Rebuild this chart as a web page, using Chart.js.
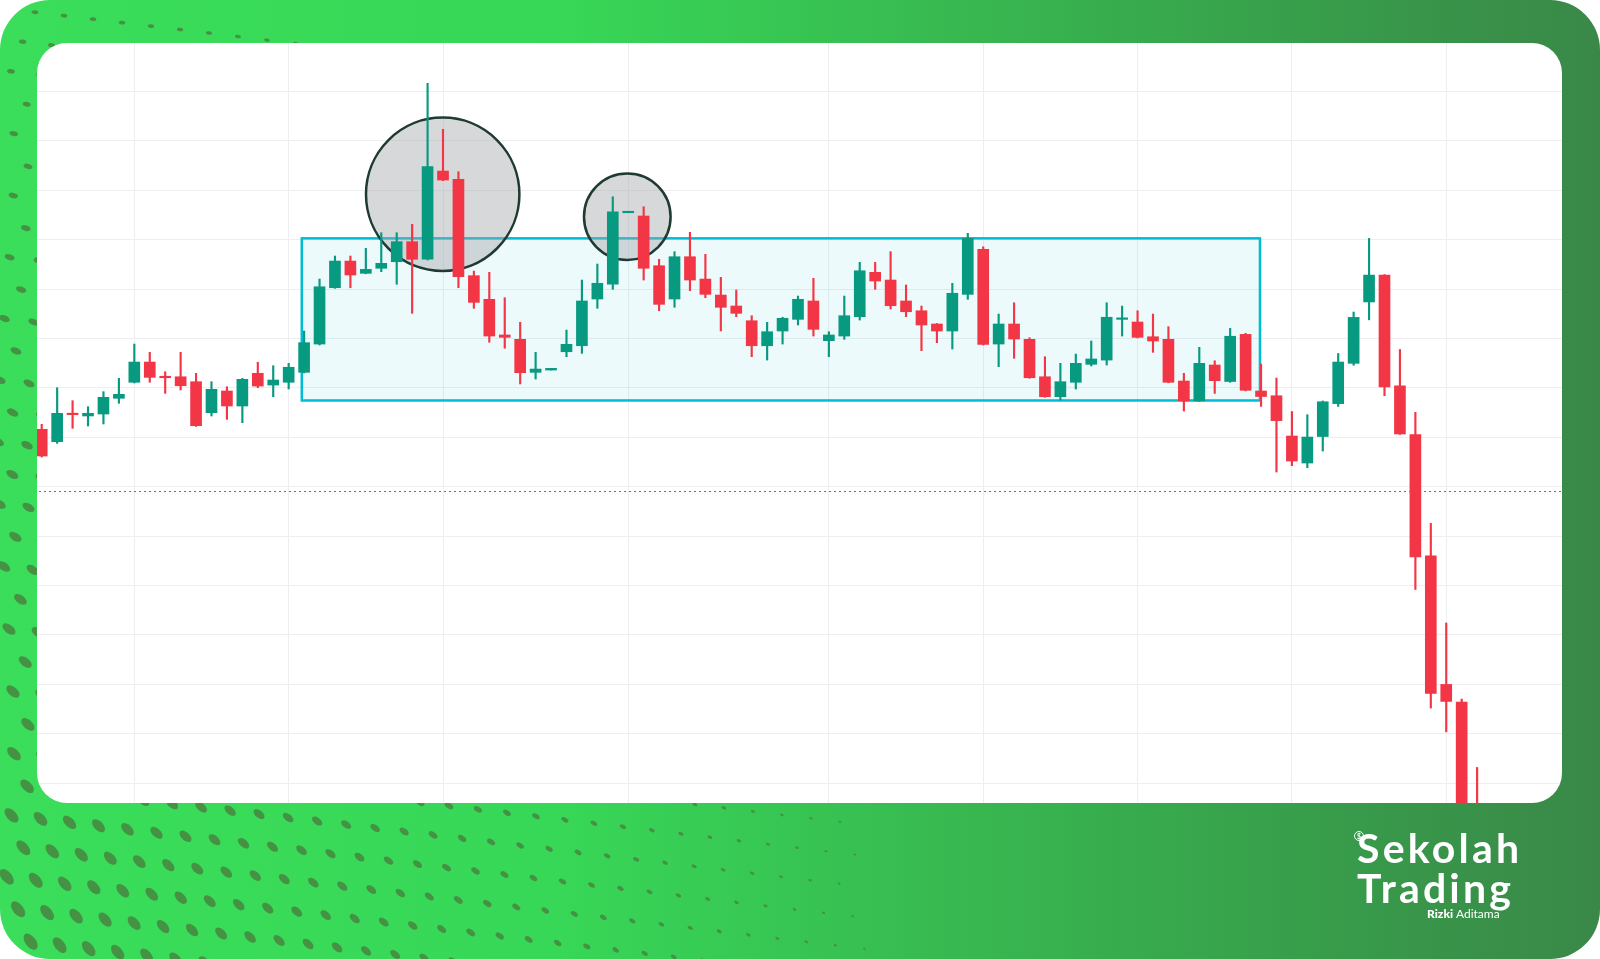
<!doctype html>
<html lang="en">
<head>
  <meta charset="utf-8">
  <title>Sideways range breakdown</title>
  <style>
    html, body { margin: 0; padding: 0; background: #fff; }
    #frame {
      position: absolute; left: 0; top: 0; width: 1600px; height: 959px;
      border-radius: 50px; overflow: hidden;
      background: linear-gradient(90deg, #3ade5a 0%, #37d757 35%, #38b850 60%, #37a04b 80%, #3a8848 100%);
    }
    #dots { position: absolute; left: 0; top: 0; }
    #panel {
      position: absolute; left: 37px; top: 43px; width: 1525px; height: 760px;
      border-radius: 30px; overflow: hidden; background: #fff;
    }
    #myChart { position: absolute; left: -3px; top: 0; }
    .logo { position: absolute; color: #fff; font-family: Lato, "Open Sans", sans-serif; font-weight: 700; white-space: nowrap; }
  </style>
</head>
<body>
  <div id="frame">
    <canvas id="dots" width="1600" height="959"></canvas>
    <div id="panel"><canvas id="myChart" width="1528" height="760"></canvas></div>
    <div class="logo" style="left:1354px;top:831px;width:8px;height:8px;border:1px solid #fff;border-radius:50%;text-align:center;font-size:7px;line-height:8px">$</div>
    <div class="logo" style="left:1357px;top:828px;font-size:41px;line-height:40px;letter-spacing:3.2px">Sekolah</div>
    <div class="logo" style="left:1357px;top:868px;font-size:41px;line-height:40px;letter-spacing:3.2px">Trading</div>
    <div class="logo" style="left:1427px;top:908px;font-size:12px;line-height:11px"><b>Rizki</b> <span style="font-weight:400">Aditama</span></div>
  </div>

  <script src="https://cdn.jsdelivr.net/npm/chart.js"></script>
  <script>
    const UP = '#089981';
    const DOWN = '#f23645';
    const GRID = '#eceef1';

    // candles
    const opens = [558.1, 545.6, 574.3, 571.6, 573.6, 589.5, 605.7, 626.2, 611.3, 611.3,
      606.3, 574.9, 596.9, 581.7, 614.8, 602.9, 605.7, 615.8, 644.4, 701.4,
      728.4, 716.0, 721.1, 727.7, 748.0, 730.2, 819.5, 811.1, 713.6, 689.7,
      653.6, 649.2, 615.8, 618.1, 636.6, 642.7, 690.0, 704.9, 777.3, 774.0,
      723.7, 690.0, 732.8, 710.2, 694.0, 682.9, 668.0, 642.7, 657.6, 669.4,
      688.0, 647.8, 652.5, 672.1, 717.0, 709.2, 688.0, 678.1, 664.7, 657.6,
      694.7, 740.3, 644.4, 664.7, 649.2, 611.3, 591.1, 605.7, 623.9, 628.2,
      669.4, 666.7, 651.8, 649.2, 607.0, 586.8, 623.2, 606.5, 654.2, 596.9,
      592.1, 551.3, 524.0, 550.8, 584.1, 624.9, 687.0, 714.2, 602.1, 552.8,
      430.0, 299.9, 282.1, 167.7];
    const highs = [563.2, 600.2, 587.1, 581.0, 596.2, 609.7, 644.4, 636.0, 616.4, 636.0,
      614.8, 606.3, 601.2, 609.7, 625.9, 622.5, 624.9, 657.6, 710.2, 733.5,
      733.5, 741.3, 757.1, 757.1, 765.6, 908.3, 861.7, 818.8, 718.3, 717.0,
      691.3, 666.4, 636.0, 619.8, 658.6, 709.2, 725.4, 793.5, 778.3, 783.4,
      730.2, 737.9, 757.5, 735.2, 711.9, 699.1, 673.1, 666.4, 671.5, 693.0,
      710.9, 656.9, 693.0, 727.1, 727.1, 737.9, 704.2, 682.9, 665.2, 705.9,
      756.5, 742.9, 674.8, 686.2, 650.8, 631.6, 624.9, 634.3, 647.5, 686.2,
      682.9, 678.1, 674.8, 662.0, 614.8, 641.1, 627.5, 660.3, 655.3, 624.2,
      610.0, 576.1, 572.9, 586.8, 634.9, 676.8, 751.3, 714.7, 638.9, 575.3,
      462.9, 362.1, 285.1, 215.9];
    const lows = [530.1, 543.9, 559.1, 561.5, 563.5, 584.4, 605.0, 605.7, 594.5, 597.9,
      561.0, 571.6, 568.2, 564.8, 600.2, 591.1, 598.9, 615.2, 643.4, 700.8,
      701.4, 715.5, 717.6, 704.9, 675.5, 729.5, 809.8, 701.4, 680.6, 646.2,
      640.1, 604.0, 609.0, 618.1, 631.6, 635.0, 680.6, 699.8, 777.3, 709.2,
      678.1, 681.6, 698.4, 691.3, 657.6, 672.1, 631.6, 628.2, 644.4, 663.7,
      652.5, 631.6, 649.2, 668.7, 699.8, 679.9, 672.1, 637.7, 645.8, 639.4,
      689.7, 643.4, 621.5, 630.0, 609.8, 590.5, 587.8, 598.9, 622.2, 623.2,
      652.5, 650.6, 636.0, 605.2, 576.6, 586.3, 594.5, 605.7, 597.0, 581.3,
      514.9, 521.3, 519.2, 536.1, 581.3, 622.9, 668.9, 592.1, 552.9, 396.0,
      276.0, 251.9, 112.1, 102.0];
    const closes = [531.1, 574.3, 572.9, 574.3, 590.5, 593.5, 626.2, 610.7, 610.3, 602.2,
      561.8, 598.6, 581.7, 608.7, 601.9, 608.0, 620.9, 645.8, 702.4, 728.4,
      714.3, 720.0, 726.1, 748.0, 730.2, 823.9, 810.4, 712.6, 686.6, 652.5,
      651.2, 615.4, 619.1, 619.8, 644.1, 688.0, 705.9, 778.3, 778.3, 721.1,
      684.6, 732.8, 709.2, 694.7, 681.6, 675.5, 642.7, 656.9, 670.5, 689.7,
      659.3, 653.6, 673.1, 718.6, 708.2, 683.2, 677.1, 663.7, 657.6, 695.8,
      751.4, 644.1, 664.7, 649.5, 610.3, 591.1, 606.3, 624.9, 629.3, 671.5,
      670.5, 651.2, 647.5, 605.7, 586.8, 624.9, 607.3, 652.3, 597.6, 591.3,
      566.9, 526.0, 550.3, 586.0, 626.2, 671.4, 714.2, 600.9, 553.4, 428.9,
      290.7, 282.7, 132.3, 122.3];

    // 99 slots on the time axis, the last few are empty space
    const labels = Array.from({ length: 99 }, (_, i) => String(i));
    const timeGridAt = [6, 16, 26, 38, 51, 61, 71, 81, 91];
    const priceGrid = [200, 250, 300, 350, 400, 450, 500, 550, 600, 650, 700, 750, 800, 850, 900];

    // drawings on top of the chart
    const rangeBox = { from: 16.85, to: 78.93, top: 751.4, bottom: 587.3 };
    const marks = [
      { at: 25.98, price: 796.0, r: 76.7 },
      { at: 37.94, price: 773.3, r: 43.3 }
    ];
    const lastPrice = 495.4;

    const colors = opens.map((o, i) => closes[i] >= o ? UP : DOWN);

    const drawings = {
      id: 'drawings',
      beforeDatasetsDraw(chart) {
        const { ctx, chartArea, scales: { x, y } } = chart;
        ctx.save();
        const bx0 = x.getPixelForValue(rangeBox.from), bx1 = x.getPixelForValue(rangeBox.to);
        const by0 = y.getPixelForValue(rangeBox.top), by1 = y.getPixelForValue(rangeBox.bottom);
        ctx.fillStyle = 'rgba(0,188,212,0.07)';
        ctx.fillRect(bx0, by0, bx1 - bx0, by1 - by0);
        ctx.strokeStyle = '#00bcd4';
        ctx.lineWidth = 2.5;
        ctx.strokeRect(bx0, by0, bx1 - bx0, by1 - by0);

        marks.forEach(m => {
          ctx.beginPath();
          ctx.arc(x.getPixelForValue(m.at), y.getPixelForValue(m.price), m.r, 0, Math.PI * 2);
          ctx.fillStyle = 'rgba(160,162,168,0.42)';
          ctx.fill();
          ctx.strokeStyle = '#1f3a31';
          ctx.lineWidth = 2.5;
          ctx.stroke();
        });

        const ly = Math.round(y.getPixelForValue(lastPrice)) + 0.5;
        ctx.beginPath();
        ctx.setLineDash([2, 3]);
        ctx.strokeStyle = DOWN;
        ctx.lineWidth = 1;
        ctx.moveTo(chartArea.left, ly);
        ctx.lineTo(chartArea.right, ly);
        ctx.stroke();
        ctx.restore();
      }
    };

    const config = {
      type: 'bar',
      data: {
        labels: labels,
        datasets: [
          {
            label: 'wick',
            data: lows.map((l, i) => [l, highs[i]]),
            backgroundColor: colors,
            barThickness: 1.5,
            grouped: false,
            order: 2
          },
          {
            label: 'body',
            data: opens.map((o, i) => [o, closes[i]]),
            backgroundColor: colors,
            barThickness: 11,
            minBarLength: 1.5,
            grouped: false,
            order: 1
          }
        ]
      },
      options: {
        responsive: false,
        animation: false,
        events: [],
        layout: { padding: 0 },
        plugins: {
          legend: { display: false },
          tooltip: { enabled: false }
        },
        scales: {
          x: {
            type: 'category',
            offset: true,
            ticks: { display: false, autoSkip: false },
            border: { display: false },
            grid: {
              offset: false,
              drawTicks: false,
              color: c => timeGridAt.includes(c.index) ? GRID : 'rgba(0,0,0,0)'
            }
          },
          y: {
            min: 179.9,
            max: 949.1,
            ticks: { display: false },
            border: { display: false },
            grid: { color: GRID, drawTicks: false },
            afterBuildTicks: s => { s.ticks = priceGrid.map(v => ({ value: v })); }
          }
        }
      },
      plugins: [drawings]
    };

    const myChart = new Chart(document.getElementById('myChart'), config);

    // dotted backdrop on the green frame
    const dctx = document.getElementById('dots').getContext('2d');
    dctx.fillStyle = 'rgba(72,138,66,0.9)';
    for (let row = 0; row < 32; row++) {
      for (let col = 0; col < 36; col++) {
        const px = 6 + col * 29 + (row % 2) * 14 + 8 * Math.sin(row / 3);
        const py = 8 + row * 31 + px * 0.12;
        const s = Math.pow(Math.max(0, 1 - px / 950), 1.1) * (0.3 + 0.7 * Math.min(1, py / 959));
        if (s < 0.07) continue;
        const rot = 0.1 + 0.85 * Math.min(1, py / 959) * (1 - px / 1400);
        dctx.beginPath();
        dctx.ellipse(px, py, 9 * s + 0.8, 5 * s + 0.5, rot, 0, Math.PI * 2);
        dctx.fill();
      }
    }
  </script>
</body>
</html>
